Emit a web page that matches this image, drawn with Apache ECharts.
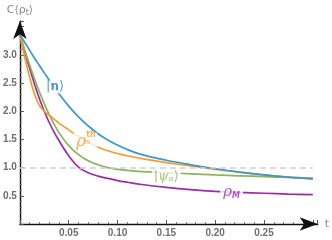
<!DOCTYPE html>
<html><head><meta charset="utf-8">
<script src="https://cdn.jsdelivr.net/npm/echarts@6/dist/echarts.min.js"></script>
<style>html,body{margin:0;padding:0;background:#fff}#c{width:332px;height:240px}</style>
</head><body><div id="c"></div>
<script>
// time samples
const tVals = [0,0.005,0.01,0.015,0.02,0.025,0.03,0.035,0.04,0.05,0.06,0.07,0.08,0.09,0.1,0.11,0.125,0.15,0.175,0.2,0.225,0.25,0.275,0.3];
// series values
const nState   = [3.35,3.22,3.08,2.94,2.81,2.68,2.55,2.43,2.31,2.09,1.9,1.74,1.6,1.49,1.4,1.32,1.23,1.13,1.05,0.98,0.92,0.87,0.83,0.80];
const rhoTh    = [3.35,2.95,2.6,2.3,2.1,2.0,1.93,1.86,1.79,1.67,1.55,1.45,1.36,1.3,1.25,1.21,1.16,1.09,1.03,0.97,0.92,0.87,0.83,0.80];
const psiAlpha = [3.35,3.08,2.82,2.57,2.34,2.13,1.94,1.77,1.62,1.39,1.23,1.12,1.05,1.0,0.97,0.95,0.93,0.91,0.89,0.87,0.855,0.84,0.825,0.815];
const rhoM     = [3.35,3.05,2.76,2.48,2.22,2.0,1.8,1.63,1.48,1.21,1.01,0.91,0.85,0.81,0.77,0.74,0.70,0.65,0.61,0.58,0.56,0.545,0.53,0.52];
// reference level
const refLevel = 1.0;
// tick labels
const xTickLabels = ['0.05','0.10','0.15','0.20','0.25'];
const yTickLabels = ['0.5','1.0','1.5','2.0','2.5','3.0'];
// label anchor indices into tVals
const labelIdx = {n: 7, th: 11, psi: 17, m: 20};

const C = {blue:'#3c97cf', orange:'#f89b2e', green:'#8bb35c', purple:'#9a2da6'};
const pts = arr => tVals.map((t,i)=>[t, arr[i]]);
const tickFont = {color:'#6e6e6e', fontSize:10, fontWeight:'bold', fontFamily:'Liberation Sans, Arial, sans-serif'};

function lineSeries(name, arr, color, extra){
  return Object.assign({
    name, type:'line', data: pts(arr), showSymbol:false, smooth:0.4,
    lineStyle:{color, width:1.7}, itemStyle:{color}, z:2, silent:true
  }, extra||{});
}
function labelSeries(arr, idx, label, z){
  return {type:'scatter', data:[[tVals[idx], arr[idx]]], symbolSize:0, z:z||5, silent:true,
    label: Object.assign({show:true, position:'inside'}, label)};
}
const axisLineStyle = {show:true, lineStyle:{color:'#111', width:1.4}, symbol:['none','arrow'], symbolSize:[10,18], onZero:false};

const chart = echarts.init(document.getElementById('c'), null, {renderer:'canvas'});
chart.setOption({
  animation:false,
  grid:{left:17, right:14, top:21, bottom:16, containLabel:false},
  xAxis:{type:'value', min:0, max:0.305, interval:0.05,
    name:'t', nameLocation:'end', nameGap:7,
    nameTextStyle:{color:'#888', fontSize:11, fontFamily:'DejaVu Sans'},
    axisLine:axisLineStyle,
    axisTick:{show:true, inside:true, length:4, lineStyle:{color:'#555'}},
    minorTick:{show:true, splitNumber:5, length:2, lineStyle:{color:'#777'}},
    splitLine:{show:false},
    axisLabel:Object.assign({margin:4, formatter:v=>{const s=v.toFixed(2); return xTickLabels.includes(s)?s:'';}}, tickFont)
  },
  yAxis:{type:'value', min:0, max:3.6, interval:0.5,
    name:'{a|C⟨ρ}{s|t}{a|⟩}', nameLocation:'end', nameGap:4,
    nameTextStyle:{align:'center', rich:{
      a:{color:'#8a8a8a', fontSize:11, fontFamily:'DejaVu Sans'},
      s:{color:'#8a8a8a', fontSize:8, fontFamily:'DejaVu Sans', padding:[5,0,0,0]}}},
    axisLine:axisLineStyle,
    axisTick:{show:true, inside:true, length:4, lineStyle:{color:'#555'}},
    minorTick:{show:true, splitNumber:5, length:2, lineStyle:{color:'#777'}},
    splitLine:{show:false},
    axisLabel:Object.assign({margin:3, formatter:v=>{const s=v.toFixed(1); return yTickLabels.includes(s)?s:'';}}, tickFont)
  },
  series:[
    lineSeries('rhoM', rhoM, C.purple, {
      markLine:{silent:true, symbol:'none', label:{show:false},
        lineStyle:{color:'#d0d0d0', type:[6,4], width:1.5},
        data:[[{coord:[tVals[0], refLevel]},{coord:[tVals[tVals.length-1], refLevel]}]]}
    }),
    lineSeries('psiAlpha', psiAlpha, C.green),
    lineSeries('rhoTh', rhoTh, C.orange),
    lineSeries('nState', nState, C.blue),
    labelSeries(nState, labelIdx.n, {
      formatter:'{a||}{b|n}{a|⟩}', backgroundColor:'#fff', padding:[0,1,0,1], offset:[1,0],
      rich:{a:{color:'#2f7fb9', fontSize:13, fontFamily:'DejaVu Sans'},
            b:{color:'#2f7fb9', fontSize:12, fontWeight:'bold', fontFamily:'DejaVu Sans'}}
    }),
    labelSeries(rhoTh, labelIdx.th, {
      formatter:'{r|ρ}', backgroundColor:'#fff', padding:[0,11,0,3], offset:[-3,-1],
      rich:{r:{color:C.orange, fontSize:17, fontStyle:'italic', fontFamily:'DejaVu Serif'}}
    }, 5),
    labelSeries(rhoTh, labelIdx.th, {
      formatter:'{u|th}\n{d|s}', offset:[-2,-4], align:'left',
      rich:{u:{color:C.orange, fontSize:8, fontWeight:'bold', fontFamily:'DejaVu Sans', lineHeight:7},
            d:{color:C.orange, fontSize:8, fontStyle:'italic', fontFamily:'DejaVu Serif', lineHeight:7}}
    }, 6),
    labelSeries(psiAlpha, labelIdx.psi, {
      formatter:'{a||}{p|ψ}{s|α}{a|⟩}', backgroundColor:'#fff', padding:[0,2,0,2], offset:[0,4],
      rich:{a:{color:C.green, fontSize:13, fontFamily:'DejaVu Sans'},
            p:{color:C.green, fontSize:13, fontStyle:'italic', fontFamily:'DejaVu Serif'},
            s:{color:C.green, fontSize:8, fontStyle:'italic', fontFamily:'DejaVu Serif', padding:[5,0,0,0]}}
    }),
    labelSeries(rhoM, labelIdx.m, {
      formatter:'{p|ρ}{s|M}', backgroundColor:'#fff', padding:[0,3,0,3], offset:[-8,0],
      rich:{p:{color:C.purple, fontSize:15, fontStyle:'italic', fontFamily:'DejaVu Serif'},
            s:{color:C.purple, fontSize:8, fontStyle:'italic', fontWeight:'bold', fontFamily:'DejaVu Sans', padding:[6,0,0,0]}}
    })
  ]
});
</script>
</body></html>
